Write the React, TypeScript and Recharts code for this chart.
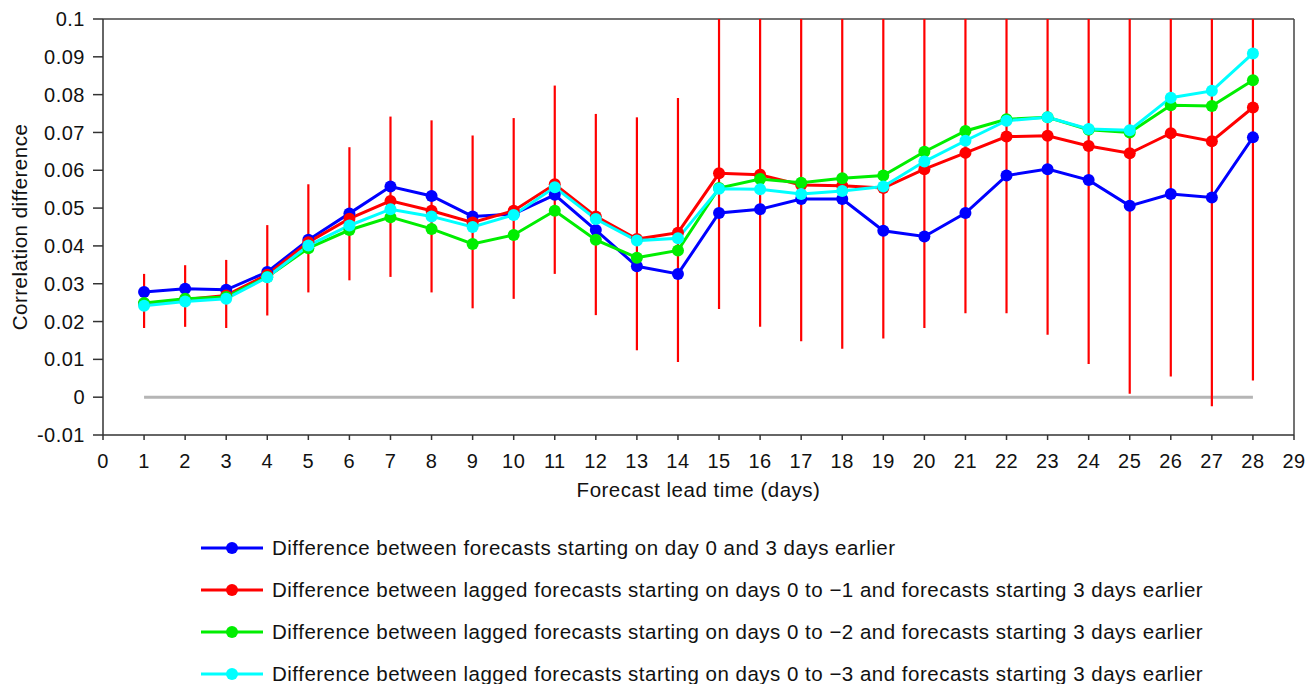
import { CartesianGrid, ErrorBar, Line, LineChart, ReferenceLine, XAxis, YAxis } from 'recharts'

const days = [1, 2, 3, 4, 5, 6, 7, 8, 9, 10, 11, 12, 13, 14, 15, 16, 17, 18, 19, 20, 21, 22, 23, 24, 25, 26, 27, 28]

const blue = [0.0278, 0.0287, 0.0284, 0.0331, 0.0416, 0.0486, 0.0557, 0.0532, 0.0478, 0.0484, 0.0535, 0.0442, 0.0346, 0.0326, 0.0487, 0.0497, 0.0524, 0.0524, 0.044, 0.0425, 0.0487, 0.0586, 0.0603, 0.0574, 0.0506, 0.0537, 0.0528, 0.0687]
const red = [0.0247, 0.0258, 0.0269, 0.0324, 0.041, 0.0472, 0.0519, 0.0493, 0.0462, 0.0493, 0.0563, 0.0478, 0.0418, 0.0435, 0.0592, 0.0588, 0.0561, 0.0559, 0.0553, 0.0603, 0.0646, 0.0689, 0.0691, 0.0664, 0.0645, 0.0698, 0.0677, 0.0766]
const green = [0.0249, 0.026, 0.0265, 0.0318, 0.0394, 0.0442, 0.0476, 0.0445, 0.0405, 0.0429, 0.0493, 0.0416, 0.0369, 0.0388, 0.0553, 0.0577, 0.0567, 0.0579, 0.0586, 0.0649, 0.0704, 0.0735, 0.074, 0.0707, 0.07, 0.0772, 0.077, 0.0838]
const cyan = [0.0242, 0.0253, 0.026, 0.0317, 0.0401, 0.0454, 0.0497, 0.0478, 0.045, 0.0482, 0.0555, 0.0471, 0.0414, 0.042, 0.0551, 0.055, 0.0537, 0.0545, 0.0557, 0.0623, 0.0678, 0.0731, 0.074, 0.0709, 0.0706, 0.0792, 0.081, 0.0909]

// red error bar extents (upper values clipped at the top of the frame)
const errLower = [0.0183, 0.0186, 0.0183, 0.0216, 0.0277, 0.0309, 0.0318, 0.0277, 0.0235, 0.026, 0.0326, 0.0217, 0.0124, 0.0093, 0.0233, 0.0186, 0.0148, 0.0128, 0.0155, 0.0183, 0.0222, 0.0222, 0.0165, 0.0088, 0.0009, 0.0055, -0.0024, 0.0044]
const errUpper = [0.0326, 0.0349, 0.0363, 0.0455, 0.0563, 0.0661, 0.0742, 0.0732, 0.0692, 0.0738, 0.0824, 0.0749, 0.074, 0.0791, 0.1, 0.1, 0.1, 0.1, 0.1, 0.1, 0.1, 0.1, 0.1, 0.1, 0.1, 0.1, 0.1, 0.1]

const xTicks = [0, 1, 2, 3, 4, 5, 6, 7, 8, 9, 10, 11, 12, 13, 14, 15, 16, 17, 18, 19, 20, 21, 22, 23, 24, 25, 26, 27, 28, 29]
const yTicks = [-0.01, 0, 0.01, 0.02, 0.03, 0.04, 0.05, 0.06, 0.07, 0.08, 0.09, 0.1]
const yTickLabels = ['-0.01', '0', '0.01', '0.02', '0.03', '0.04', '0.05', '0.06', '0.07', '0.08', '0.09', '0.1']

const seriesNames = [
  'Difference between forecasts starting on day 0 and 3 days earlier',
  'Difference between lagged forecasts starting on days 0 to \u22121 and forecasts starting 3 days earlier',
  'Difference between lagged forecasts starting on days 0 to \u22122 and forecasts starting 3 days earlier',
  'Difference between lagged forecasts starting on days 0 to \u22123 and forecasts starting 3 days earlier',
]
const seriesKeys = ['blue', 'red', 'green', 'cyan']
const seriesColors = ['#0000ff', '#ff0000', '#00ee00', '#00ffff']

const data = days.map((d, i) => ({
  day: d,
  blue: blue[i],
  red: red[i],
  green: green[i],
  cyan: cyan[i],
  err: [red[i] - errLower[i], errUpper[i] - red[i]],
}))

const FONT = '"Liberation Sans", Arial, Helvetica, sans-serif'
const textStyle = { fontSize: 20, fill: '#111', fontFamily: FONT, letterSpacing: 0.5 }

function yLabel(v: number) {
  const i = yTicks.findIndex((t) => Math.abs(t - v) < 1e-6)
  return i >= 0 ? yTickLabels[i] : String(v)
}

export default function App() {
  return (
    <div style={{ position: 'absolute', left: 0, top: 0, width: 1306, height: 684, background: '#fff', fontFamily: FONT }}>
      <LineChart width={1306} height={520} data={data} margin={{ top: 19, right: 12, left: 0, bottom: 15 }}>
        <CartesianGrid stroke="none" />
        <XAxis
          dataKey="day"
          type="number"
          domain={[0, 29]}
          ticks={xTicks}
          interval={0}
          tick={textStyle}
          tickSize={5}
          tickMargin={14}
          height={70}
          stroke="#333"
          strokeWidth={1.5}
          label={{ value: 'Forecast lead time (days)', position: 'insideBottom', offset: 8, style: { ...textStyle, fontSize: 20.5 } }}
        />
        <YAxis
          type="number"
          domain={[-0.01, 0.1]}
          ticks={yTicks}
          interval={0}
          tickFormatter={yLabel}
          tick={textStyle}
          tickSize={10}
          tickMargin={8}
          width={103}
          stroke="#333"
          strokeWidth={1.5}
          allowDataOverflow
          label={{ value: 'Correlation difference', angle: -90, position: 'insideLeft', offset: 20, style: { ...textStyle, fontSize: 20.5, textAnchor: 'middle' } }}
        />
        <ReferenceLine y={0.1} stroke="#444" strokeWidth={1.5} />
        <ReferenceLine x={29} stroke="#444" strokeWidth={1.5} />
        <ReferenceLine segment={[{ x: 1, y: 0 }, { x: 28, y: 0 }]} stroke="#b5b5b5" strokeWidth={3} />
        <Line dataKey="red" stroke="none" dot={false} activeDot={false} isAnimationActive={false} legendType="none">
          <ErrorBar dataKey="err" direction="y" width={0} stroke="#ff0000" strokeWidth={2.2} isAnimationActive={false} />
        </Line>
        {seriesKeys.map((k, i) => (
          <Line
            key={k}
            dataKey={k}
            name={seriesNames[i]}
            stroke={seriesColors[i]}
            strokeWidth={3}
            dot={{ r: 6, fill: seriesColors[i], stroke: seriesColors[i], strokeWidth: 0 }}
            activeDot={false}
            isAnimationActive={false}
          />
        ))}
      </LineChart>
      <div style={{ position: 'absolute', left: 201, top: 527 }}>
        {seriesNames.map((n, i) => (
          <div key={n} style={{ display: 'flex', alignItems: 'center', height: 42, fontSize: 20.5, letterSpacing: 0.5, color: '#111', whiteSpace: 'nowrap' }}>
            <svg width={62} height={14} style={{ marginRight: 9, flex: 'none' }}>
              <line x1={0} y1={7} x2={62} y2={7} stroke={seriesColors[i]} strokeWidth={3} />
              <circle cx={31} cy={7} r={6} fill={seriesColors[i]} />
            </svg>
            <span>{n}</span>
          </div>
        ))}
      </div>
    </div>
  )
}
